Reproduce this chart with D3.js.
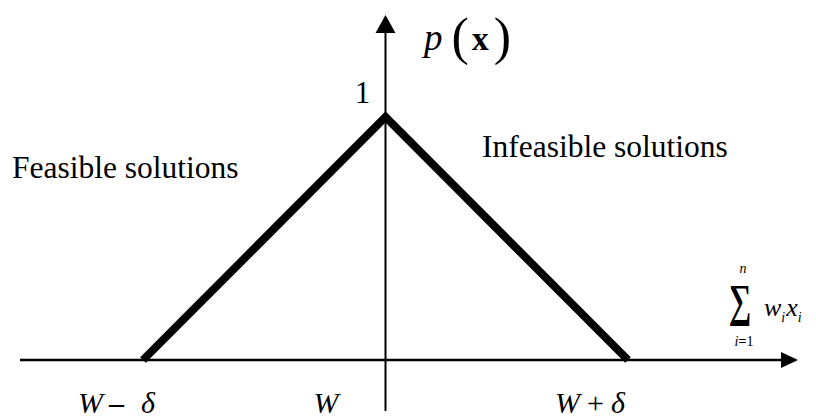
<!DOCTYPE html>
<html>
<head>
<meta charset="utf-8">
<script src="https://cdn.jsdelivr.net/npm/d3@7"></script>
<style>
  html, body { margin: 0; padding: 0; background: #fff; }
  svg { display: block; }
  text { font-family: "Liberation Serif", "Times New Roman", serif; fill: #000; }
</style>
</head>
<body>
<svg id="chart" width="816" height="418"></svg>
<script>
// Penalty function p(x): rises from W−δ to 1 at W, falls back to 0 at W+δ
const xValues = [-1, 0, 1];          // W−δ, W, W+δ (in units of δ from W)
const pValues = [0, 1, 0];
const xTickLabels = [
  [{t: "W", s: "italic"}, {t: "–", s: "bold", dx: 6}, {t: "δ", s: "italic", dx: 17}],
  [{t: "W", s: "italic"}],
  [{t: "W", s: "italic"}, {t: "+", s: "normal", dx: 7}, {t: "δ", s: "italic", dx: 7}]
];
const yTickValues = [1];
const regionLabels = ["Feasible solutions", "Infeasible solutions"];

const svg = d3.select("#chart");

const x = d3.scaleLinear().domain([-1, 1]).range([143, 628]);
const y = d3.scaleLinear().domain([0, 1]).range([360, 117]);

const axisColor = "#000";

// horizontal axis with arrowhead
const xAxisStart = 20, xAxisEnd = 798;
svg.append("line")
  .attr("x1", xAxisStart).attr("x2", xAxisEnd - 12)
  .attr("y1", y(0)).attr("y2", y(0))
  .attr("stroke", axisColor).attr("stroke-width", 2.4);
svg.append("path")
  .attr("d", `M${xAxisEnd},${y(0)} L${xAxisEnd - 17},${y(0) - 8} L${xAxisEnd - 17},${y(0) + 8} Z`)
  .attr("fill", axisColor);

// vertical axis at W with arrowhead
const yAxisTop = 15, yAxisBottom = 411;
svg.append("line")
  .attr("x1", x(0)).attr("x2", x(0))
  .attr("y1", yAxisTop + 10).attr("y2", yAxisBottom)
  .attr("stroke", axisColor).attr("stroke-width", 2);
svg.append("path")
  .attr("d", `M${x(0)},${yAxisTop} L${x(0) - 10},${yAxisTop + 18} L${x(0) + 10},${yAxisTop + 18} Z`)
  .attr("fill", axisColor);

// the triangular curve
const line = d3.line().x((d, i) => x(xValues[i])).y(d => y(d));
svg.append("path")
  .datum(pValues)
  .attr("d", line)
  .attr("fill", "none")
  .attr("stroke", "#000")
  .attr("stroke-width", 8)
  .attr("stroke-linejoin", "miter")
  .attr("stroke-linecap", "butt");

// x tick labels
const labelStart = [-65, -72, -73];
xTickLabels.forEach((parts, i) => {
  const t = svg.append("text")
    .attr("x", x(xValues[i]) + labelStart[i])
    .attr("y", 413)
    .attr("font-size", 30);
  parts.forEach(p => {
    t.append("tspan")
      .attr("dx", p.dx || 0)
      .attr("font-style", p.s === "italic" ? "italic" : "normal")
      .attr("font-weight", p.s === "bold" ? "bold" : "normal")
      .text(p.t);
  });
});

// y tick label
svg.selectAll(".ytick").data(yTickValues).join("text")
  .attr("class", "ytick")
  .attr("x", x(0) - 23)
  .attr("y", d => y(d) - 14)
  .attr("text-anchor", "middle")
  .attr("font-size", 31)
  .text(d => d);

// y axis title p(x)
const yTitle = svg.append("text").attr("x", 424).attr("y", 50).attr("font-size", 37);
yTitle.append("tspan").attr("font-style", "italic").text("p");
yTitle.append("tspan").attr("dx", 9).attr("font-size", 52).attr("dy", 4).text("(");
yTitle.append("tspan").attr("dx", 3).attr("font-weight", "bold").attr("font-size", 34).attr("dy", -4).text("x");
yTitle.append("tspan").attr("dx", 5).attr("font-size", 52).attr("dy", 4).text(")");

// x axis title: Σ_{i=1}^{n} w_i x_i
const sx = 740;
svg.append("text").attr("font-size", 44).attr("font-weight", "bold")
  .attr("transform", `translate(${sx},316) scale(0.72,1.05)`)
  .attr("text-anchor", "middle").text("∑");
svg.append("text").attr("x", sx + 3).attr("y", 273).attr("font-size", 14)
  .attr("font-style", "italic").attr("text-anchor", "middle").text("n");
const sub = svg.append("text").attr("x", sx + 4).attr("y", 346).attr("font-size", 14)
  .attr("text-anchor", "middle");
sub.append("tspan").attr("font-style", "italic").text("i");
sub.append("tspan").attr("font-weight", "bold").text("=");
sub.append("tspan").text("1");
const wx = svg.append("text").attr("x", 764).attr("y", 316).attr("font-size", 26).attr("font-style", "italic");
wx.append("tspan").text("w");
wx.append("tspan").attr("font-size", 14).attr("dy", 6).text("i");
wx.append("tspan").attr("dy", -6).attr("dx", 1).text("x");
wx.append("tspan").attr("font-size", 14).attr("dy", 6).text("i");

// region labels
svg.append("text").attr("x", 12).attr("y", 178).attr("font-size", 31.5).text(regionLabels[0]);
svg.append("text").attr("x", 482).attr("y", 157).attr("font-size", 31.5).text(regionLabels[1]);
</script>
</body>
</html>
